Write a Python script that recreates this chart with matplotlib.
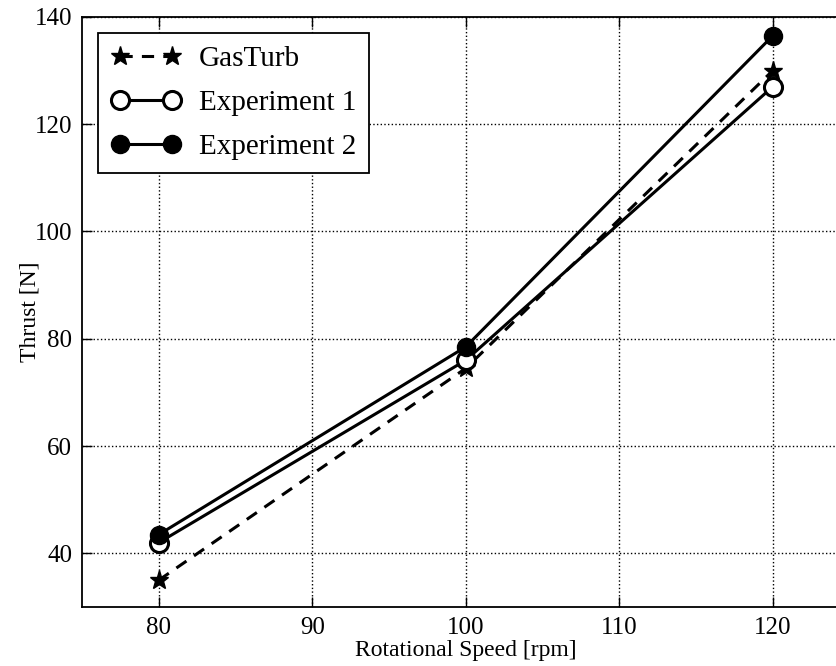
import matplotlib
matplotlib.use("Agg")
import matplotlib.pyplot as plt

# thrust measurements against shaft speed
speed = [80, 100, 120]
thrust_gasturb = [35.0, 74.5, 130.0]
thrust_exp1 = [42.0, 76.0, 127.0]
thrust_exp2 = [43.5, 78.5, 136.5]

plt.rcParams['font.family'] = ['Liberation Serif', 'DejaVu Serif']

fig = plt.figure(figsize=(8.37, 6.66), dpi=100)
ax = fig.add_axes([0.098, 0.0886, 0.917, 0.886])

ax.plot(speed, thrust_gasturb, 'k--', marker='*', markersize=14, lw=2.2,
        dashes=(4, 3), label='GasTurb')
ax.plot(speed, thrust_exp1, 'k-', marker='o', markersize=13, lw=2.2,
        markerfacecolor='white', markeredgewidth=2.2, label='Experiment 1')
ax.plot(speed, thrust_exp2, 'k-', marker='o', markersize=13, lw=2.2,
        markerfacecolor='black', label='Experiment 2')

ax.set_xlim(75, 125)
ax.set_ylim(30, 140)
ax.set_xticks([80, 90, 100, 110, 120])
ax.set_yticks([40, 60, 80, 100, 120, 140])
ax.tick_params(direction='in', top=True, right=True, length=7, width=1,
               labelsize=18, pad=7)
ax.grid(True, color='black', linestyle=':', linewidth=1)
for s in ax.spines.values():
    s.set_linewidth(1.3)

ax.set_xlabel('Rotational Speed [rpm]', fontsize=17, labelpad=1)
ax.set_ylabel('Thrust [N]', fontsize=17, labelpad=-4)

leg = ax.legend(loc='upper left', numpoints=2, fontsize=21, handlelength=2.4,
                fancybox=False, framealpha=1, borderpad=0.45,
                labelspacing=0.6, handletextpad=0.6, borderaxespad=0.55)
leg.get_frame().set_edgecolor('black')
leg.get_frame().set_linewidth(1.3)

fig.savefig('out.png', dpi=100)
